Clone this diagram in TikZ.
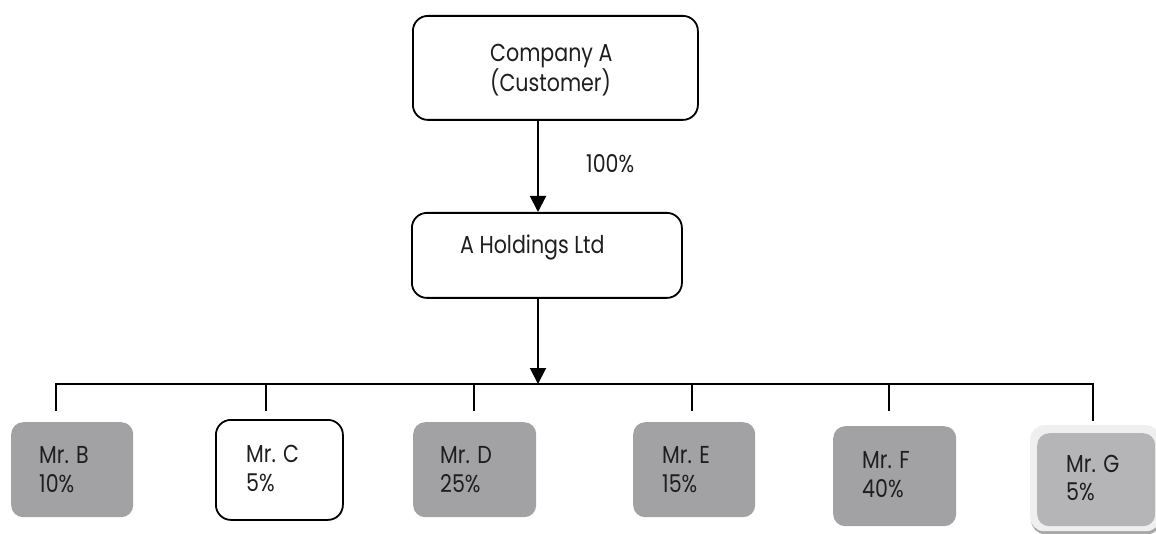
\documentclass[tikz,border=0pt]{standalone}
\usepackage{fontspec}
\setmainfont{Poppins}[FakeStretch=0.84]
\usetikzlibrary{arrows.meta}
\definecolor{boxgray}{HTML}{A2A2A4}
\definecolor{ggray}{HTML}{B5B5B7}
\definecolor{gedge}{HTML}{EFEFEF}
\definecolor{gshadow}{HTML}{A8A8A8}
\definecolor{txt}{HTML}{1E1E1E}
\begin{document}
\begin{tikzpicture}[x=1pt,y=-1pt,
  boxw/.style={draw=black, line width=1.8pt, rounded corners=15pt, fill=white, inner sep=0pt, anchor=north west},
  boxg/.style={fill=boxgray, rounded corners=12pt, inner sep=0pt, anchor=north west},
  lbl/.style={anchor=base west, inner sep=0pt, font=\fontsize{24.5}{30}\selectfont, text=txt},
  conn/.style={line width=2pt, -{Triangle[width=16pt,length=16pt]}},
  bus/.style={line width=1.5pt}
]
\useasboundingbox (0,0) rectangle (1156,534);

% top boxes
\node[boxw, minimum width=285pt, minimum height=104pt] (ca) at (412,15) {};
\node[boxw, minimum width=270pt, minimum height=85pt] (ah) at (411,212) {};
\node[lbl] (ca1) at (490,62) {Company A};
\node[lbl] (ca2) at (490,92) {(Customer)};
\node[lbl] (ah1) at (460,254) {A Holdings Ltd};
\node[lbl] (pc) at (586,173) {100\%};

% bottom boxes
\node[boxg, minimum width=122pt, minimum height=95pt] (B) at (11,422) {};
\node[boxw, minimum width=127pt, minimum height=100pt] (C) at (215,419) {};
\node[boxg, minimum width=123pt, minimum height=95pt] (D) at (413,422) {};
\node[boxg, minimum width=122pt, minimum height=95pt] (E) at (633,422) {};
\node[boxg, minimum width=123pt, minimum height=100pt] (F) at (833,426) {};
\node[fill=gshadow, rounded corners=14pt, inner sep=0pt, anchor=north west, minimum width=130pt, minimum height=106pt] (Gs) at (1031,428) {};
\node[fill=gedge, rounded corners=14pt, inner sep=0pt, anchor=north west, minimum width=130pt, minimum height=106pt] (Go) at (1030,425) {};
\node[fill=ggray, rounded corners=12pt, inner sep=0pt, anchor=north west, minimum width=118pt, minimum height=93pt] (G) at (1037,433) {};

\node[lbl] (B1) at (39,463) {Mr. B};
\node[lbl] (B2) at (39,492) {10\%};
\node[lbl] (C1) at (246,462) {Mr. C};
\node[lbl] (C2) at (246,491) {5\%};
\node[lbl] (D1) at (440,463) {Mr. D};
\node[lbl] (D2) at (440,492) {25\%};
\node[lbl] (E1) at (662,463) {Mr. E};
\node[lbl] (E2) at (662,492) {15\%};
\node[lbl] (F1) at (862,468) {Mr. F};
\node[lbl] (F2) at (862,497) {40\%};
\node[lbl] (G1) at (1066,472) {Mr. G};
\node[lbl] (G2) at (1066,500) {5\%};

% connectors
\coordinate (j) at (538,384);
\draw[conn] (ca.south -| j) -- (ah.north -| j);
\draw[conn] (ah.south -| j) -- (j);

\coordinate (d1) at (56,411);
\coordinate (d2) at (266,411);
\coordinate (d3) at (474,411);
\coordinate (d4) at (692,411);
\coordinate (d5) at (889,411);
\coordinate (d6) at (1093,421);
\draw[bus] (d1) -- (d1 |- j) -- (d6 |- j) -- (d6);
\foreach \d in {d2,d3,d4,d5} \draw[bus] (\d) -- (\d |- j);
\end{tikzpicture}
\end{document}
